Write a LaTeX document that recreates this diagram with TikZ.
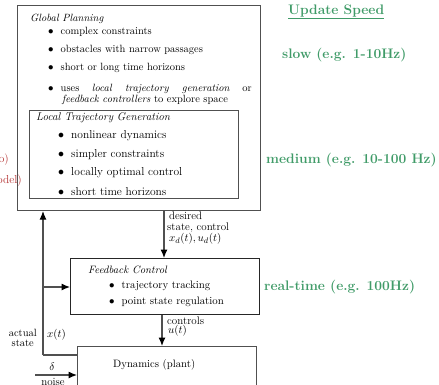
\documentclass[tikz,border=0pt]{standalone}
\usetikzlibrary{arrows.meta,calc}
\definecolor{spd}{RGB}{64,155,104}
\definecolor{lc}{RGB}{80,80,80}
\definecolor{rd}{RGB}{180,50,50}
\newcommand{\fs}[1]{\fontsize{#1}{#1}\selectfont}
\tikzset{
  box/.style={draw=lc, line width=1.1pt, rectangle, anchor=north west, inner sep=0pt},
  arr/.style={draw=lc, line width=1.1pt, -{Latex[length=8.5pt,width=7pt,color=black]}},
  ln/.style={draw=lc, line width=1.1pt},
  txt/.style={anchor=west, inner sep=0pt},
  speed/.style={anchor=west, inner sep=0pt, text=spd, font=\fs{13.8}\bfseries},
}
\begin{document}
\begin{tikzpicture}[x=1pt,y=-1pt]
\clip (0,0) rectangle (439,384);
% boxes
\node[box, minimum width=243pt, minimum height=205pt] (gp) at (17,5) {};
\node[box, minimum width=209pt, minimum height=88pt] (lt) at (29,110) {};
\node[box, draw=black!85, minimum width=189pt, minimum height=56pt] (fb) at (70,258) {};
\node[box, minimum width=179pt, minimum height=60pt] (dyn) at (77,346) {};
% global planning
\node[txt, font=\fs{10.5}\itshape] (gpt) at (30,19) {Global Planning};
\node[txt, font=\fs{10.5}] (g1) at (48,32) {$\bullet$\hspace{7pt}complex constraints};
\node[txt, font=\fs{10.5}] (g2) at (48,50) {$\bullet$\hspace{7pt}obstacles with narrow passages};
\node[txt, font=\fs{10.5}] (g3) at (48,68) {$\bullet$\hspace{7pt}short or long time horizons};
\node[txt, font=\fs{10.5}, align=left] (g4) at (48,94.5) {$\bullet$\hspace{7pt}\makebox[191pt][s]{uses \textit{local trajectory generation} or}\\[1pt]\hspace{14pt}\textit{feedback controllers} to explore space};
% local trajectory
\node[txt, font=\fs{11.2}\itshape] (ltt) at (36,118) {Local Trajectory Generation};
\node[txt, font=\fs{11.5}] (l1) at (58,136) {$\bullet$\hspace{7pt}nonlinear dynamics};
\node[txt, font=\fs{11.5}] (l2) at (58,155) {$\bullet$\hspace{7pt}simpler constraints};
\node[txt, font=\fs{11.5}] (l3) at (58,173) {$\bullet$\hspace{7pt}locally optimal control};
\node[txt, font=\fs{11.5}] (l4) at (58,192) {$\bullet$\hspace{7pt}short time horizons};
% feedback control
\node[txt, font=\fs{10.7}\itshape] (fbt) at (88,270) {Feedback Control};
\node[txt, font=\fs{10.8}] (f1) at (109,286) {$\bullet$\hspace{7pt}trajectory tracking};
\node[txt, font=\fs{10.8}] (f2) at (109,302) {$\bullet$\hspace{7pt}point state regulation};
% dynamics
\node[txt, font=\fs{10.7}] (dynt) at (113,365) {Dynamics (plant)};
% speeds
\node[speed] (us) at (288,12) {\underline{Update Speed}};
\node[speed] (s1) at (282,55) {slow (e.g. 1-10Hz)};
\node[speed] (s2) at (266,160) {medium (e.g. 10-100 Hz)};
\node[speed] (s3) at (264,287) {real-time (e.g. 100Hz)};
% red cut labels
\node[anchor=east, inner sep=0pt, text=rd, font=\fs{11.5}] (r1) at (9,160) {o)};
\node[anchor=east, inner sep=0pt, text=rd, font=\fs{11.5}] (r2) at (22,181) {odel)};
% connectors
\coordinate (d1) at (164,0);
\draw[arr] (gp.south -| d1) -- (fb.north -| d1);
\node[anchor=north west, inner sep=0pt, font=\fs{11}, align=left] (dl) at (167,212) {\hspace{2pt}desired\\state, control\\ \hspace{2pt}$x_d(t), u_d(t)$};
\coordinate (c1) at (162,0);
\draw[arr] (fb.south -| c1) -- (dyn.north -| c1);
\node[anchor=north west, inner sep=0pt, font=\fs{11}] (cl) at (167,317) {controls};
\node[anchor=north west, inner sep=0pt, font=\fs{11}] (ul) at (168,325) {$u(t)$};
\coordinate (fbk) at (43,355);
\coordinate (br) at (43,287);
\draw[ln] (dyn.west |- fbk) -- (fbk);
\draw[arr] (fbk) -- (gp.south -| fbk);
\draw[arr] (br) -- (fb.west |- br);
\node[anchor=east, inner sep=0pt, font=\fs{10.5}, align=center] (as) at (37,338) {actual\\state};
\node[anchor=west, inner sep=0pt, font=\fs{11}] (xl) at (47,335) {$x(t)$};
\coordinate (nz) at (35,375);
\draw[arr] (nz) -- (dyn.west |- nz);
\node[inner sep=0pt, font=\fs{11}] (dl2) at (52,367) {$\delta$};
\node[anchor=north, inner sep=0pt, font=\fs{11}] (nl) at (53,378) {noise};
\end{tikzpicture}
\end{document}
